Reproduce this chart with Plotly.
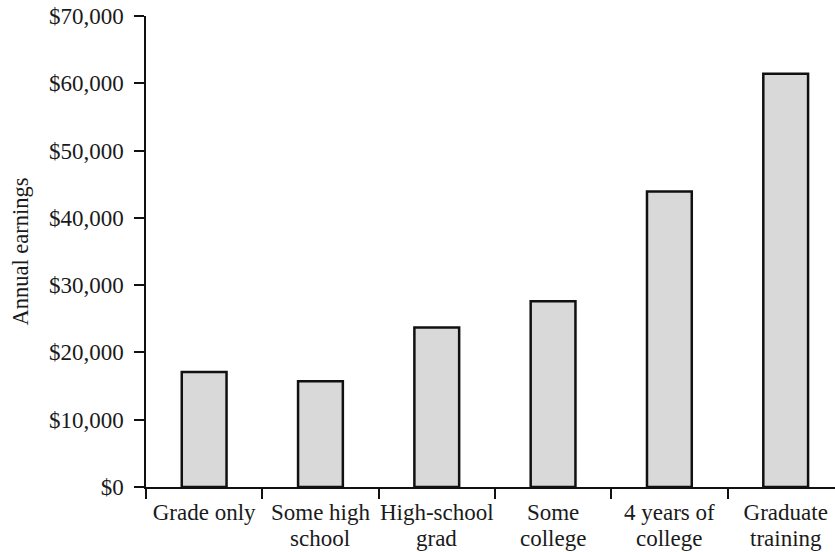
import plotly.graph_objects as go

categories = ["Grade only", "Some high school", "High-school grad", "Some college",
              "4 years of college", "Graduate training"]
label_line1 = ["Grade only", "Some high", "High-school", "Some", "4 years of", "Graduate"]
label_line2 = ["", "school", "grad", "college", "college", "training"]
earnings = [17100, 15700, 23700, 27600, 43900, 61400]
y_tick_values = [0, 10000, 20000, 30000, 40000, 50000, 60000, 70000]
y_tick_text = [f"${v:,}" for v in y_tick_values]
y_title = "Annual earnings"

FONT = "Liberation Serif"
TXT = "#1a1a1a"
fig = go.Figure()
fig.add_trace(go.Bar(
    x=categories, y=earnings, width=0.385,
    marker=dict(color="#d9d9d9", line=dict(color="#111111", width=2.5)),
    hoverinfo="skip",
))
# second lines of the category labels (tight leading like the reference)
for cat, line in zip(categories, label_line2):
    if line:
        fig.add_annotation(x=cat, xref="x", y=0, yref="paper", text=line,
                           showarrow=False, yanchor="middle", yshift=-51,
                           font=dict(family=FONT, size=23, color=TXT))
fig.update_layout(
    width=835, height=552,
    margin=dict(l=146, r=0, t=16, b=65, pad=0),
    paper_bgcolor="white", plot_bgcolor="white",
    showlegend=False,
    font=dict(family=FONT, size=23, color=TXT),
    xaxis=dict(
        type="category", range=[-0.5, 5.424], tickson="boundaries",
        tickmode="array", tickvals=categories, ticktext=label_line1,
        ticks="outside", ticklen=10, tickwidth=1.5, tickcolor="#111111",
        showline=True, linewidth=1.5, linecolor="#111111",
        showgrid=False, zeroline=False, automargin=False, tickangle=0,
        tickfont=dict(family=FONT, size=23, color=TXT),
        ticklabelstandoff=4, ticklabeloverflow="allow",
    ),
    yaxis=dict(
        range=[0, 70000], tickmode="array", tickvals=y_tick_values, ticktext=y_tick_text,
        ticks="outside", ticklen=10, tickwidth=1.5, tickcolor="#111111",
        showline=True, linewidth=1.5, linecolor="#111111",
        showgrid=False, zeroline=False, automargin=False,
        tickfont=dict(family=FONT, size=23, color=TXT),
        ticklabelstandoff=6, ticklabeloverflow="allow",
        title=dict(text=y_title, font=dict(family=FONT, size=22.5, color=TXT), standoff=14),
    ),
)
fig.write_html(
    "out.html",
    config={"displayModeBar": False},
    post_script="document.body.style.margin='0px';document.body.style.overflow='hidden';",
)
